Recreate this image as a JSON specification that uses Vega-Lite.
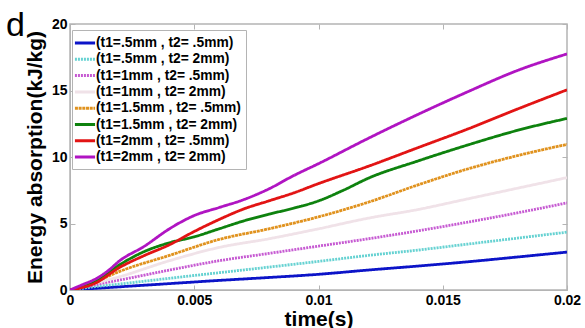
{
  "$schema": "https://vega.github.io/schema/vega-lite/v6.json",
  "width": 497,
  "height": 266,
  "autosize": "none",
  "padding": {"left": 70, "top": 24, "right": 18, "bottom": 38},
  "background": "white",
  "config": {
    "font": "Liberation Sans",
    "view": {"stroke": "#b4b4b4", "strokeWidth": 1.5},
    "axis": {"grid": false, "domainColor": "#b4b4b4", "tickColor": "#b4b4b4", "tickSize": -5, "labelFont": "Liberation Sans", "labelFontSize": 14, "labelFontWeight": "bold", "labelColor": "black", "titleFont": "Liberation Sans", "titleFontSize": 21, "titleFontWeight": "bold", "titleColor": "black"}
  },
  "title": {"text": "d", "anchor": "start", "frame": "group", "fontSize": 34, "fontWeight": "normal", "font": "Liberation Sans", "dx": -64, "dy": 26, "offset": 0},
  "data": {"values": [
    {"s":"(t1=.5mm , t2= .5mm)","t":0,"e":0},{"s":"(t1=.5mm , t2= .5mm)","t":0.001,"e":0.12},{"s":"(t1=.5mm , t2= .5mm)","t":0.002,"e":0.24},{"s":"(t1=.5mm , t2= .5mm)","t":0.004,"e":0.48},{"s":"(t1=.5mm , t2= .5mm)","t":0.006,"e":0.72},{"s":"(t1=.5mm , t2= .5mm)","t":0.008,"e":0.94},{"s":"(t1=.5mm , t2= .5mm)","t":0.01,"e":1.18},{"s":"(t1=.5mm , t2= .5mm)","t":0.012,"e":1.5},{"s":"(t1=.5mm , t2= .5mm)","t":0.014,"e":1.8},{"s":"(t1=.5mm , t2= .5mm)","t":0.016,"e":2.12},{"s":"(t1=.5mm , t2= .5mm)","t":0.018,"e":2.48},{"s":"(t1=.5mm , t2= .5mm)","t":0.02,"e":2.85},
    {"s":"(t1=.5mm , t2= 2mm)","t":0,"e":0},{"s":"(t1=.5mm , t2= 2mm)","t":0.001,"e":0.25},{"s":"(t1=.5mm , t2= 2mm)","t":0.002,"e":0.45},{"s":"(t1=.5mm , t2= 2mm)","t":0.004,"e":0.88},{"s":"(t1=.5mm , t2= 2mm)","t":0.006,"e":1.3},{"s":"(t1=.5mm , t2= 2mm)","t":0.008,"e":1.72},{"s":"(t1=.5mm , t2= 2mm)","t":0.01,"e":2.15},{"s":"(t1=.5mm , t2= 2mm)","t":0.012,"e":2.6},{"s":"(t1=.5mm , t2= 2mm)","t":0.014,"e":3.0},{"s":"(t1=.5mm , t2= 2mm)","t":0.016,"e":3.45},{"s":"(t1=.5mm , t2= 2mm)","t":0.018,"e":3.9},{"s":"(t1=.5mm , t2= 2mm)","t":0.02,"e":4.35},
    {"s":"(t1=1mm , t2= .5mm)","t":0,"e":0},{"s":"(t1=1mm , t2= .5mm)","t":0.001,"e":0.4},{"s":"(t1=1mm , t2= .5mm)","t":0.002,"e":0.75},{"s":"(t1=1mm , t2= .5mm)","t":0.004,"e":1.5},{"s":"(t1=1mm , t2= .5mm)","t":0.006,"e":2.2},{"s":"(t1=1mm , t2= .5mm)","t":0.008,"e":2.75},{"s":"(t1=1mm , t2= .5mm)","t":0.01,"e":3.3},{"s":"(t1=1mm , t2= .5mm)","t":0.012,"e":3.85},{"s":"(t1=1mm , t2= .5mm)","t":0.014,"e":4.45},{"s":"(t1=1mm , t2= .5mm)","t":0.016,"e":5.1},{"s":"(t1=1mm , t2= .5mm)","t":0.018,"e":5.8},{"s":"(t1=1mm , t2= .5mm)","t":0.02,"e":6.55},
    {"s":"(t1=1mm , t2= 2mm)","t":0,"e":0},{"s":"(t1=1mm , t2= 2mm)","t":0.001,"e":0.5},{"s":"(t1=1mm , t2= 2mm)","t":0.002,"e":1.0},{"s":"(t1=1mm , t2= 2mm)","t":0.004,"e":2.2},{"s":"(t1=1mm , t2= 2mm)","t":0.006,"e":3.2},{"s":"(t1=1mm , t2= 2mm)","t":0.008,"e":3.85},{"s":"(t1=1mm , t2= 2mm)","t":0.01,"e":4.6},{"s":"(t1=1mm , t2= 2mm)","t":0.012,"e":5.4},{"s":"(t1=1mm , t2= 2mm)","t":0.014,"e":6.05},{"s":"(t1=1mm , t2= 2mm)","t":0.016,"e":6.85},{"s":"(t1=1mm , t2= 2mm)","t":0.018,"e":7.65},{"s":"(t1=1mm , t2= 2mm)","t":0.02,"e":8.45},
    {"s":"(t1=1.5mm , t2= .5mm)","t":0,"e":0},{"s":"(t1=1.5mm , t2= .5mm)","t":0.001,"e":0.6},{"s":"(t1=1.5mm , t2= .5mm)","t":0.002,"e":1.4},{"s":"(t1=1.5mm , t2= .5mm)","t":0.004,"e":2.6},{"s":"(t1=1.5mm , t2= .5mm)","t":0.006,"e":3.8},{"s":"(t1=1.5mm , t2= .5mm)","t":0.008,"e":4.6},{"s":"(t1=1.5mm , t2= .5mm)","t":0.01,"e":5.5},{"s":"(t1=1.5mm , t2= .5mm)","t":0.012,"e":6.6},{"s":"(t1=1.5mm , t2= .5mm)","t":0.014,"e":7.9},{"s":"(t1=1.5mm , t2= .5mm)","t":0.016,"e":9.1},{"s":"(t1=1.5mm , t2= .5mm)","t":0.018,"e":10.1},{"s":"(t1=1.5mm , t2= .5mm)","t":0.02,"e":10.95},
    {"s":"(t1=1.5mm , t2= 2mm)","t":0,"e":0},{"s":"(t1=1.5mm , t2= 2mm)","t":0.001,"e":0.6},{"s":"(t1=1.5mm , t2= 2mm)","t":0.002,"e":1.9},{"s":"(t1=1.5mm , t2= 2mm)","t":0.003,"e":2.9},{"s":"(t1=1.5mm , t2= 2mm)","t":0.004,"e":3.55},{"s":"(t1=1.5mm , t2= 2mm)","t":0.005,"e":4.0},{"s":"(t1=1.5mm , t2= 2mm)","t":0.006,"e":4.6},{"s":"(t1=1.5mm , t2= 2mm)","t":0.007,"e":5.2},{"s":"(t1=1.5mm , t2= 2mm)","t":0.008,"e":5.7},{"s":"(t1=1.5mm , t2= 2mm)","t":0.009,"e":6.15},{"s":"(t1=1.5mm , t2= 2mm)","t":0.01,"e":6.7},{"s":"(t1=1.5mm , t2= 2mm)","t":0.011,"e":7.5},{"s":"(t1=1.5mm , t2= 2mm)","t":0.012,"e":8.4},{"s":"(t1=1.5mm , t2= 2mm)","t":0.014,"e":9.7},{"s":"(t1=1.5mm , t2= 2mm)","t":0.016,"e":10.9},{"s":"(t1=1.5mm , t2= 2mm)","t":0.018,"e":12.0},{"s":"(t1=1.5mm , t2= 2mm)","t":0.02,"e":12.9},
    {"s":"(t1=2mm , t2= .5mm)","t":0,"e":0},{"s":"(t1=2mm , t2= .5mm)","t":0.001,"e":0.5},{"s":"(t1=2mm , t2= .5mm)","t":0.002,"e":1.7},{"s":"(t1=2mm , t2= .5mm)","t":0.003,"e":2.6},{"s":"(t1=2mm , t2= .5mm)","t":0.004,"e":3.4},{"s":"(t1=2mm , t2= .5mm)","t":0.005,"e":4.4},{"s":"(t1=2mm , t2= .5mm)","t":0.006,"e":5.3},{"s":"(t1=2mm , t2= .5mm)","t":0.007,"e":6.1},{"s":"(t1=2mm , t2= .5mm)","t":0.008,"e":6.7},{"s":"(t1=2mm , t2= .5mm)","t":0.009,"e":7.3},{"s":"(t1=2mm , t2= .5mm)","t":0.01,"e":8.0},{"s":"(t1=2mm , t2= .5mm)","t":0.012,"e":9.3},{"s":"(t1=2mm , t2= .5mm)","t":0.014,"e":10.7},{"s":"(t1=2mm , t2= .5mm)","t":0.016,"e":12.1},{"s":"(t1=2mm , t2= .5mm)","t":0.018,"e":13.6},{"s":"(t1=2mm , t2= .5mm)","t":0.02,"e":15.05},
    {"s":"(t1=2mm , t2= 2mm)","t":0,"e":0},{"s":"(t1=2mm , t2= 2mm)","t":0.0005,"e":0.4},{"s":"(t1=2mm , t2= 2mm)","t":0.001,"e":0.8},{"s":"(t1=2mm , t2= 2mm)","t":0.0015,"e":1.4},{"s":"(t1=2mm , t2= 2mm)","t":0.002,"e":2.2},{"s":"(t1=2mm , t2= 2mm)","t":0.003,"e":3.3},{"s":"(t1=2mm , t2= 2mm)","t":0.004,"e":4.6},{"s":"(t1=2mm , t2= 2mm)","t":0.005,"e":5.6},{"s":"(t1=2mm , t2= 2mm)","t":0.006,"e":6.2},{"s":"(t1=2mm , t2= 2mm)","t":0.007,"e":6.8},{"s":"(t1=2mm , t2= 2mm)","t":0.008,"e":7.6},{"s":"(t1=2mm , t2= 2mm)","t":0.009,"e":8.6},{"s":"(t1=2mm , t2= 2mm)","t":0.01,"e":9.5},{"s":"(t1=2mm , t2= 2mm)","t":0.012,"e":11.4},{"s":"(t1=2mm , t2= 2mm)","t":0.014,"e":13.2},{"s":"(t1=2mm , t2= 2mm)","t":0.016,"e":14.9},{"s":"(t1=2mm , t2= 2mm)","t":0.018,"e":16.5},{"s":"(t1=2mm , t2= 2mm)","t":0.02,"e":17.75}
  ]},
  "resolve": {"axis": {"x": "independent", "y": "independent"}},
  "layer": [
    {
      "mark": {"type": "line", "interpolate": "monotone", "strokeWidth": 2.8, "clip": true},
      "encoding": {
        "x": {"field": "t", "type": "quantitative", "scale": {"domain": [0, 0.02], "nice": false}, "axis": {"values": [0, 0.005, 0.01, 0.015, 0.02], "format": "~g", "title": "time(s)", "labelPadding": 8, "titlePadding": 1, "labelFlush": false}},
        "y": {"field": "e", "type": "quantitative", "scale": {"domain": [0, 20], "nice": false}, "axis": {"values": [0, 5, 10, 15, 20], "title": "Energy absorption(kJ/kg)", "labelPadding": 8, "titlePadding": 6}},
        "color": {"field": "s", "type": "nominal", "scale": {
          "domain": ["(t1=.5mm , t2= .5mm)", "(t1=.5mm , t2= 2mm)", "(t1=1mm , t2= .5mm)", "(t1=1mm , t2= 2mm)", "(t1=1.5mm , t2= .5mm)", "(t1=1.5mm , t2= 2mm)", "(t1=2mm , t2= .5mm)", "(t1=2mm , t2= 2mm)"],
          "range": ["#0c14c8", "#66d2d2", "#c65ad2", "#f0e2e8", "#e0921e", "#0e820e", "#e21414", "#b014c2"]},
          "legend": {"title": null, "orient": "none", "legendX": 2, "legendY": 6, "symbolType": "M-1.55,0H1.55", "symbolSize": 169, "symbolStrokeWidth": 3, "labelFontSize": 13.8, "labelFontWeight": "bold", "labelFont": "Liberation Sans", "labelColor": "black", "rowPadding": 1.3, "padding": 5, "strokeColor": "#b4b4b4", "fillColor": "white", "labelOffset": 3, "labelLimit": 300}},
        "strokeDash": {"field": "s", "type": "nominal", "scale": {
          "domain": ["(t1=.5mm , t2= .5mm)", "(t1=.5mm , t2= 2mm)", "(t1=1mm , t2= .5mm)", "(t1=1mm , t2= 2mm)", "(t1=1.5mm , t2= .5mm)", "(t1=1.5mm , t2= 2mm)", "(t1=2mm , t2= .5mm)", "(t1=2mm , t2= 2mm)"],
          "range": [[1, 0], [2, 1], [2, 1], [1, 0], [3, 0.7], [1, 0], [1, 0], [1, 0]]},
          "legend": {"title": null, "orient": "none", "legendX": 2, "legendY": 6}}
      }
    },
    {
      "mark": {"type": "line", "opacity": 0},
      "encoding": {
        "x": {"field": "t", "type": "quantitative", "scale": {"domain": [0, 0.02], "nice": false}, "axis": {"orient": "top", "values": [0, 0.005, 0.01, 0.015, 0.02], "labels": false, "title": null, "domain": false}},
        "y": {"field": "e", "type": "quantitative", "scale": {"domain": [0, 20], "nice": false}, "axis": {"orient": "right", "values": [0, 5, 10, 15, 20], "labels": false, "title": null, "domain": false}},
        "detail": {"field": "s"}
      }
    }
  ]
}
